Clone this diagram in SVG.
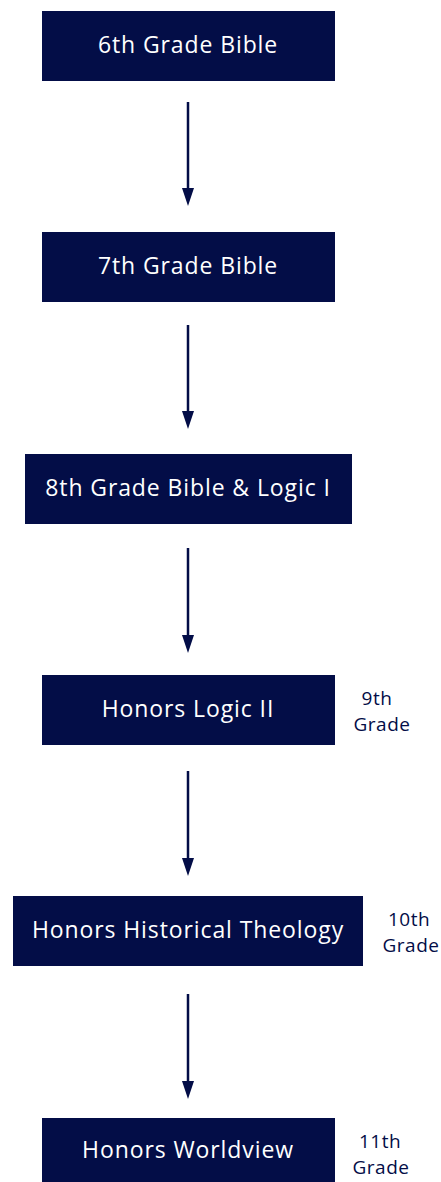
<svg xmlns="http://www.w3.org/2000/svg" width="441" height="1182" viewBox="0 0 441 1182">
<defs>
<style>
.box{fill:#030d47}
.lbl{font-family:"Open Sans","Noto Sans","Liberation Sans",sans-serif;font-size:23px;letter-spacing:0.9px;fill:#ffffff;text-anchor:middle}
.side{font-family:"Open Sans","Noto Sans","Liberation Sans",sans-serif;font-size:19px;letter-spacing:0.5px;fill:#030d47;text-anchor:middle}
.edge{stroke:#030d47;stroke-width:2.5;fill:none}
.head{fill:#030d47}
</style>
</defs>
<rect width="441" height="1182" fill="#ffffff"/>
<g id="connectors">
<line class="edge" x1="188" y1="102" x2="188" y2="192"/><polygon class="head" points="182,188 194,188 188,206"/>
<line class="edge" x1="188" y1="325" x2="188" y2="415"/><polygon class="head" points="182,411 194,411 188,429"/>
<line class="edge" x1="188" y1="548" x2="188" y2="639"/><polygon class="head" points="182,635 194,635 188,653"/>
<line class="edge" x1="188" y1="771" x2="188" y2="862"/><polygon class="head" points="182,858 194,858 188,876"/>
<line class="edge" x1="188" y1="994" x2="188" y2="1085"/><polygon class="head" points="182,1081 194,1081 188,1099"/>
</g>
<g id="n1"><rect class="box" x="42" y="11" width="293" height="70"/><text class="lbl" x="188" y="53">6th Grade Bible</text></g>
<g id="n2"><rect class="box" x="42" y="232" width="293" height="70"/><text class="lbl" x="188" y="274">7th Grade Bible</text></g>
<g id="n3"><rect class="box" x="25" y="454" width="327" height="70"/><text class="lbl" x="188" y="496">8th Grade Bible &amp; Logic I</text></g>
<g id="n4"><rect class="box" x="42" y="675" width="293" height="70"/><text class="lbl" x="188" y="717">Honors Logic II</text><text class="side" x="377" y="705">9th</text><text class="side" x="382" y="731">Grade</text></g>
<g id="n5"><rect class="box" x="13" y="896" width="350" height="70"/><text class="lbl" x="188" y="938">Honors Historical Theology</text><text class="side" x="409" y="926">10th</text><text class="side" x="411" y="952">Grade</text></g>
<g id="n6"><rect class="box" x="42" y="1118" width="293" height="64"/><text class="lbl" x="188" y="1158">Honors Worldview</text><text class="side" x="380" y="1148">11th</text><text class="side" x="381" y="1174">Grade</text></g>
</svg>
